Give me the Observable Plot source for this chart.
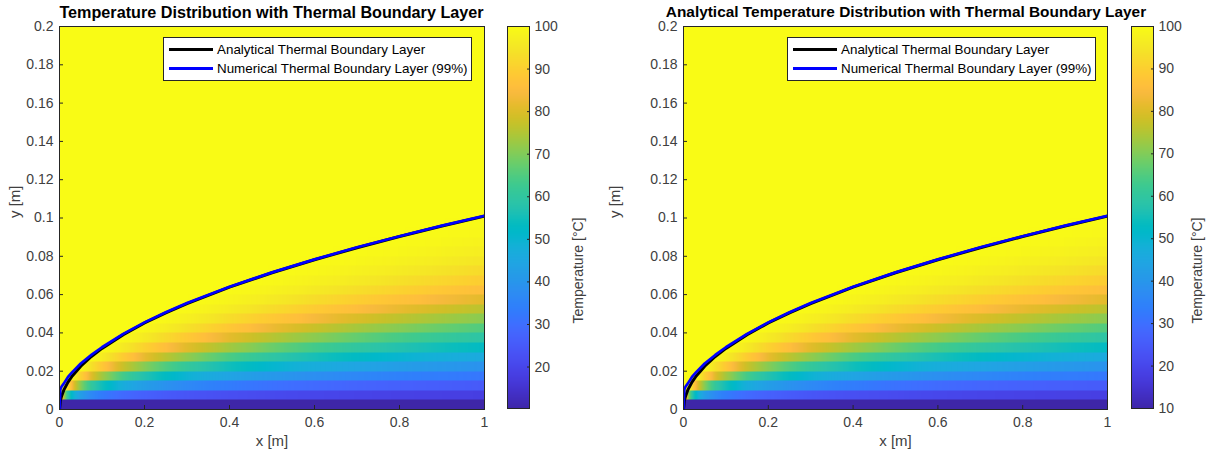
<!DOCTYPE html>
<html><head><meta charset="utf-8">
<script src="https://cdn.jsdelivr.net/npm/d3@7"></script>
<script src="https://cdn.jsdelivr.net/npm/@observablehq/plot@0.6"></script>
<style>
body{margin:0;background:#fff;font-family:"Liberation Sans",Arial,sans-serif}
#c{position:relative;width:1207px;height:455px;overflow:hidden;background:#fff}
#c > svg{position:absolute;top:0}
.title{position:absolute;top:4px;line-height:16px;font-weight:bold;color:#000;white-space:nowrap;transform:translateX(-50%)}
.legend{position:absolute;top:37px;width:307px;height:40px;background:#fff;border:1px solid #262626;font-size:13.4px;color:#000;padding-top:2px;box-sizing:content-box}
.legend .row{display:flex;align-items:center;height:19px;white-space:nowrap}
.legend .sw{display:inline-block;width:44px;height:3px;margin-left:5px;margin-right:4px}
</style></head><body><div id="c"></div>
<script>
// ---- data ----
const xTicks = [0, 0.2, 0.4, 0.6, 0.8, 1];
const yTicks = [0, 0.02, 0.04, 0.06, 0.08, 0.1, 0.12, 0.14, 0.16, 0.18, 0.2];
const cbTicksLeft = [20, 30, 40, 50, 60, 70, 80, 90, 100];
const cbTicksRight = [10, 20, 30, 40, 50, 60, 70, 80, 90, 100];
const cMinLeft = 10.26, cMinRight = 10, cMax = 100;

// boundary-layer thickness along the plate
const blX        = [0, 0.002, 0.005, 0.01, 0.02, 0.03, 0.05, 0.075, 0.1, 0.15, 0.2, 0.25, 0.3, 0.4, 0.5, 0.6, 0.7, 0.8, 0.9, 1.0];
const deltaAnalytic = [0, 0.0045, 0.0071, 0.0101, 0.0143, 0.0175, 0.0226, 0.0277, 0.0319, 0.0391, 0.0452, 0.0505, 0.0553, 0.0639, 0.0714, 0.0782, 0.0845, 0.0903, 0.0958, 0.101];
const deltaNumeric  = [0, 0.0105, 0.012, 0.0135, 0.017, 0.0195, 0.024, 0.0285, 0.0325, 0.0395, 0.0455, 0.0508, 0.0556, 0.0641, 0.0716, 0.0784, 0.0847, 0.0905, 0.096, 0.1012];

// temperature of each grid row at the trailing edge (x = 1)
const rowY = [0, 0.005, 0.01, 0.015, 0.02, 0.025, 0.03, 0.035, 0.04, 0.045, 0.05, 0.055, 0.06, 0.065, 0.07, 0.075, 0.08, 0.085, 0.09, 0.095, 0.1];
const rowT = [10, 18, 25, 32, 39, 46, 53, 59, 65, 71, 76, 81, 86, 89.5, 92.5, 95, 96.8, 98, 99, 99.5, 99.9];
const freeStreamT = 100;

// labels
const titleLeft = "Temperature Distribution with Thermal Boundary Layer";
const titleRight = "Analytical Temperature Distribution with Thermal Boundary Layer";
const legendLabels = ["Analytical Thermal Boundary Layer", "Numerical Thermal Boundary Layer (99%)"];
const xLabel = "x [m]", yLabel = "y [m]", cLabel = "Temperature [°C]";

// parula colour map
const parula = [[0.2422,0.1504,0.6603],[0.2504,0.1650,0.7076],[0.2578,0.1818,0.7511],[0.2647,0.1978,0.7952],[0.2706,0.2147,0.8364],[0.2751,0.2342,0.8710],[0.2783,0.2559,0.8991],[0.2803,0.2782,0.9221],[0.2813,0.3006,0.9414],[0.2810,0.3228,0.9579],[0.2795,0.3447,0.9717],[0.2760,0.3667,0.9829],[0.2699,0.3892,0.9906],[0.2602,0.4123,0.9952],[0.2440,0.4358,0.9988],[0.2206,0.4603,0.9973],[0.1963,0.4847,0.9892],[0.1834,0.5074,0.9798],[0.1786,0.5289,0.9682],[0.1764,0.5499,0.9520],[0.1687,0.5703,0.9359],[0.1540,0.5902,0.9218],[0.1460,0.6091,0.9079],[0.1380,0.6276,0.8973],[0.1248,0.6459,0.8883],[0.1113,0.6635,0.8763],[0.0952,0.6798,0.8598],[0.0689,0.6948,0.8394],[0.0297,0.7082,0.8163],[0.0036,0.7203,0.7917],[0.0067,0.7312,0.7660],[0.0433,0.7411,0.7394],[0.0964,0.7500,0.7120],[0.1408,0.7584,0.6842],[0.1717,0.7670,0.6554],[0.1938,0.7758,0.6251],[0.2161,0.7843,0.5923],[0.2470,0.7918,0.5567],[0.2906,0.7973,0.5188],[0.3406,0.8008,0.4789],[0.3909,0.8029,0.4354],[0.4456,0.8024,0.3909],[0.5044,0.7993,0.3480],[0.5616,0.7942,0.3045],[0.6174,0.7876,0.2612],[0.6720,0.7793,0.2227],[0.7242,0.7698,0.1910],[0.7738,0.7598,0.1646],[0.8203,0.7498,0.1535],[0.8634,0.7406,0.1596],[0.9035,0.7330,0.1774],[0.9393,0.7288,0.2100],[0.9728,0.7298,0.2394],[0.9956,0.7434,0.2371],[0.9970,0.7659,0.2199],[0.9952,0.7893,0.2028],[0.9892,0.8136,0.1885],[0.9786,0.8386,0.1766],[0.9676,0.8639,0.1643],[0.9610,0.8890,0.1537],[0.9597,0.9135,0.1423],[0.9628,0.9373,0.1265],[0.9691,0.9606,0.1064],[0.9769,0.9839,0.0805]]
  .map(([r,g,b]) => d3.rgb(r*255, g*255, b*255).formatHex());
const parulaInterp = d3.piecewise(d3.interpolateRgb, parula);

// ---- helpers ----
function interp(xs, ys, x) {
  if (x <= xs[0]) return ys[0];
  if (x >= xs[xs.length-1]) return ys[ys.length-1];
  const i = d3.bisectRight(xs, x) - 1;
  const t = (x - xs[i]) / (xs[i+1] - xs[i]);
  return ys[i] + t * (ys[i+1] - ys[i]);
}
const rowStep = rowY[1] - rowY[0];
const deltaRef = deltaAnalytic[deltaAnalytic.length-1];
function field(x, y) {
  const j = Math.floor(y / rowStep + 1e-9);
  const yj = j * rowStep;
  if (j <= 0) return rowT[0];
  const d = interp(blX, deltaAnalytic, x);
  if (d <= 0) return freeStreamT;
  const eta = yj * deltaRef / d;
  if (eta > rowY[rowY.length-1]) return freeStreamT;
  return interp(rowY, rowT, eta);
}
const fmt = d => String(d);
const font = '"Liberation Sans", Arial, sans-serif';
const axisColor = "#262626";
const tickColor = "#404040";

function heatmap({width, marginLeft, marginRight, cmin}) {
  return Plot.plot({
    width, height: 455, marginTop: 26, marginBottom: 46, marginLeft, marginRight,
    style: {fontFamily: font, fontSize: "14px", color: tickColor, background: "transparent"},
    x: {domain: [0, 1]},
    y: {domain: [0, 0.2]},
    color: {type: "linear", domain: [cmin, cMax], interpolate: parulaInterp, clamp: true},
    marks: [
      Plot.raster({x1: 0, x2: 1, y1: 0, y2: 0.2, fill: field, pixelSize: 1}),
      Plot.line(blX, {x: d => d, y: (d, i) => deltaAnalytic[i], stroke: "#000", strokeWidth: 3, clip: true}),
      Plot.line(blX, {x: d => d, y: (d, i) => deltaNumeric[i], stroke: "#0000ff", strokeWidth: 2.7, clip: true}),
      Plot.frame({stroke: axisColor, strokeWidth: 1}),
      Plot.axisX({ticks: xTicks, tickFormat: fmt, tickSize: 0, tickPadding: 8, label: null, fontSize: 14}),
      Plot.axisX({ticks: xTicks, tickSize: -4, tickFormat: () => "", label: null, stroke: axisColor}),
      Plot.axisY({ticks: yTicks, tickFormat: fmt, tickSize: 0, tickPadding: 6, label: null, fontSize: 14}),
      Plot.axisY({ticks: yTicks, tickSize: -4, tickFormat: () => "", label: null, stroke: axisColor}),
      Plot.text([xLabel], {frameAnchor: "bottom", dy: 36, fontSize: 15, fill: tickColor}),
      Plot.text([yLabel], {frameAnchor: "left", dx: -(marginLeft - 15), rotate: -90, fontSize: 15, fill: tickColor})
    ]
  });
}
function colorbar({width, marginLeft, marginRight, cmin, ticks, labelOffset}) {
  return Plot.plot({
    width, height: 455, marginTop: 26, marginBottom: 47, marginLeft, marginRight,
    style: {fontFamily: font, fontSize: "14px", color: tickColor, background: "transparent"},
    x: {domain: [0, 1], axis: null},
    y: {domain: [cmin, cMax]},
    color: {type: "linear", domain: [cmin, cMax], interpolate: parulaInterp, clamp: true},
    marks: [
      Plot.raster({x1: 0, x2: 1, y1: cmin, y2: cMax, fill: (x, y) => y, pixelSize: 1}),
      Plot.frame({stroke: axisColor, strokeWidth: 1}),
      Plot.axisY({anchor: "right", ticks, tickFormat: fmt, tickSize: 0, tickPadding: 5, label: null, fontSize: 14}),
      Plot.axisY({anchor: "right", ticks, tickSize: -3, tickFormat: () => "", label: null, stroke: axisColor}),
      Plot.text([cLabel], {frameAnchor: "right", dx: labelOffset, rotate: -90, fontSize: 14, fill: tickColor})
    ]
  });
}

const c = document.getElementById("c");
function place(el, left) { el.style.left = left + "px"; c.appendChild(el); }
place(heatmap({width: 490, marginLeft: 59, marginRight: 6, cmin: cMinLeft}), 0);
place(colorbar({width: 110, marginLeft: 17, marginRight: 71, cmin: cMinLeft, ticks: cbTicksLeft, labelOffset: 49}), 490);
place(heatmap({width: 512, marginLeft: 83, marginRight: 5, cmin: cMinRight}), 600);
place(colorbar({width: 95, marginLeft: 19, marginRight: 54, cmin: cMinRight, ticks: cbTicksRight, labelOffset: 44}), 1112);

const legendColors = ["#000", "#0000ff"];
function addTitle(text, cx, size) {
  const t = document.createElement("div"); t.className = "title"; t.textContent = text;
  t.style.left = cx + "px"; t.style.fontSize = size + "px"; c.appendChild(t);
}
function addLegend(left) {
  const L = document.createElement("div"); L.className = "legend"; L.style.left = left + "px";
  legendLabels.forEach((lab, i) => {
    const r = document.createElement("div"); r.className = "row";
    const s = document.createElement("span"); s.className = "sw"; s.style.background = legendColors[i];
    const tx = document.createElement("span"); tx.textContent = lab;
    r.appendChild(s); r.appendChild(tx); L.appendChild(r);
  });
  c.appendChild(L);
}
addTitle(titleLeft, 271.5, 16.2);
addTitle(titleRight, 906, 15.4);
addLegend(163);
addLegend(787);
</script></body></html>
